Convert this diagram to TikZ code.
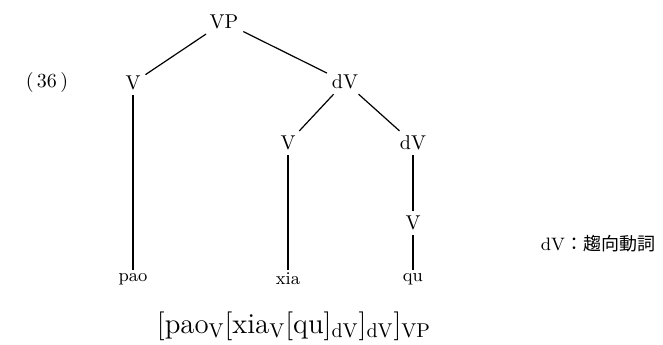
\documentclass[tikz,border=0pt]{standalone}
\usepackage{fontspec}
\newfontfamily\cjk{Noto Sans CJK JP}
\usepackage{tikz}
\usetikzlibrary{positioning}
\tikzset{
	line width = .6pt,
	font = \normalsize,
	cat/.style={
		inner sep=1.5pt,
		outer sep=1pt
	},
	word/.style={
		font=\small,
		inner sep=1.5pt
	},
	branch/.style={
		line width=.6pt
	}
}

\begin{document}
\begin{tikzpicture}[x=.5pt, y=-.5pt]
\useasboundingbox (0,0) rectangle (663,344);
		% ---
% tree (36)
% ---
\node at (47,82) (ex) {(\,36\,)};

\node[cat] at (224,22) (vp) {VP};
\node[cat] at (133,83) (v-0) {V};
\node[cat] at (345,82) (dv-0) {dV};
\node[cat] at (288,143) (v-1) {V};
\node[cat] at (413,143) (dv-1) {dV};
\node[cat] at (413,223) (v-2) {V};

\node[word] at (133,279) (pao) {pao};
\node[word] at (288,279) (xia) {xia};
\node[word] at (413,279) (qu) {qu};

\draw[branch] (vp) -- (v-0);
\draw[branch] (vp) -- (dv-0);
\draw[branch] (dv-0) -- (v-1);
\draw[branch] (dv-0) -- (dv-1);
\draw[branch] (v-0) -- (pao);
\draw[branch] (v-1) -- (xia);
\draw[branch] (dv-1) -- (v-2);
\draw[branch] (v-2) -- (qu);

% legend and bracketing
\node[font=\small] at (598,244) (key) {dV{\cjk ：趨向動詞}};
\node[font=\Large] at (294,326) (brk) {[pao$_{\mathrm{V}}$[xia$_{\mathrm{V}}$[qu]$_{\mathrm{dV}}$]$_{\mathrm{dV}}$]$_{\mathrm{VP}}$};
	\end{tikzpicture}
\end{document}
